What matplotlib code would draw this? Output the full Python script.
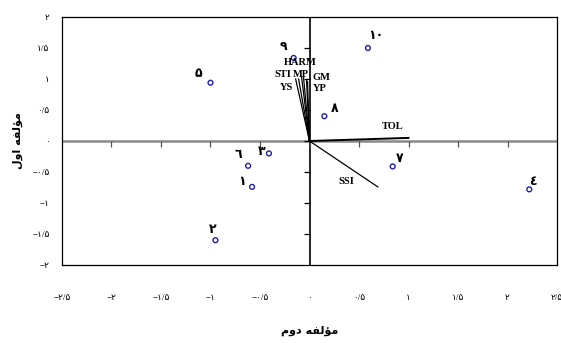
import numpy as np
import matplotlib
matplotlib.use('Agg')
import matplotlib.pyplot as plt

# genotypes (PC2 on x, PC1 on y)
GENO_LABELS = ['۱', '۲', '۳', '٤', '۵', '٦', '۷', '۸', '۹', '۱۰']
GENO_X = [-0.58, -0.95, -0.41, 2.22, -1.00, -0.62, 0.84, 0.15, -0.16, 0.59]
GENO_Y = [-0.74, -1.60, -0.20, -0.78, 0.94, -0.40, -0.41, 0.40, 1.34, 1.50]

# index vectors
VEC_NAMES = ['YS', 'STI', 'HARM', 'MP', 'GM', 'YP', 'TOL', 'SSI']
VEC_X = [-0.14, -0.11, -0.08, -0.06, -0.03, -0.02, 1.00, 0.69]
VEC_Y = [1.00, 1.00, 1.03, 1.02, 0.98, 0.96, 0.05, -0.74]

TICKS_X = [-2.5, -2, -1.5, -1, -0.5, 0, 0.5, 1, 1.5, 2, 2.5]
TICKS_Y = [-2, -1.5, -1, -0.5, 0, 0.5, 1, 1.5, 2]

# label placement (pixels for genotype labels, data coords for vectors)
GENO_OFF = [(-10, 5), (-3, 10), (-7, 1), (4, 7), (-12, 9),
            (-10, 11), (7, 7), (10, 7), (-10, 11), (8, 12)]
VEC_LBL = {'YS': (-0.23, 0.87), 'STI': (-0.27, 1.08), 'HARM': (-0.09, 1.26),
           'MP': (-0.09, 1.08), 'GM': (0.12, 1.03), 'YP': (0.10, 0.84),
           'TOL': (0.84, 0.23), 'SSI': (0.37, -0.65)}

FAM = ['Liberation Serif', 'DejaVu Sans']
PERSIAN = str.maketrans('0123456789.-', '۰۱۲۳۴۵۶۷۸۹/−')


def fa_num(v):
    s = ('%g' % v)
    if s.startswith('-'):
        return '−' + s[1:].translate(PERSIAN)
    return s.translate(PERSIAN)


# joined presentation forms, reversed into visual order (no bidi in matplotlib)
YLABEL = 'ﻣﺆﻟﻔﻪ ﺍﻭﻝ'[::-1]
XLABEL = 'ﻣﺆﻟﻔﻪ ﺩﻭﻡ'[::-1]

fig = plt.figure(figsize=(5.61, 3.43), dpi=100)
ax = fig.add_axes([0.1105, 0.2274, 0.8824, 0.7230])
ax.set_xlim(-2.5, 2.5)
ax.set_ylim(-2, 2)

for s in ax.spines.values():
    s.set_linewidth(0.9)
    s.set_color('black')

ax.set_xticks(TICKS_X)
ax.set_yticks(TICKS_Y)
ax.set_xticklabels([fa_num(t) for t in TICKS_X], family=FAM, fontsize=6.5)
ax.set_yticklabels([fa_num(t) for t in TICKS_Y], family=FAM, fontsize=6.5)
ax.tick_params(axis='x', length=0, pad=21)
ax.tick_params(axis='y', length=0, pad=9)

# zero axes with their own tick marks
ax.axhline(0, color='#8a8a8a', lw=1.8, zorder=1)
ax.axvline(0, color='black', lw=1.2, zorder=1)
ax.plot(TICKS_X[1:-1], np.zeros(len(TICKS_X) - 2), ls='none', marker=3,
        ms=4, mew=0.9, color='#555555', zorder=1)
ax.plot(np.zeros(len(TICKS_Y) - 2), TICKS_Y[1:-1], ls='none', marker=0,
        ms=4, mew=0.9, color='black', zorder=1)

# vectors
for name, vx, vy in zip(VEC_NAMES, VEC_X, VEC_Y):
    lw = 1.4 if name == 'TOL' else 0.9
    ax.plot([0, vx], [0, vy], color='black', lw=lw, zorder=2)
    lx, ly = VEC_LBL[name]
    ax.text(lx, ly, name, family=FAM, fontsize=7.5, fontweight='bold',
            ha='center', va='center', zorder=4)

# genotypes
ax.scatter(GENO_X, GENO_Y, s=12, facecolors='none', edgecolors='#1f1fa8',
           linewidths=1.0, zorder=3)
for lab, gx, gy, off in zip(GENO_LABELS, GENO_X, GENO_Y, GENO_OFF):
    ax.annotate(lab, (gx, gy), xytext=off, textcoords='offset pixels',
                family=FAM, fontsize=9, fontweight='bold',
                ha='center', va='center', zorder=4)

fig.text(0.552, 0.035, XLABEL, family='DejaVu Sans', fontsize=8,
         fontweight='bold', ha='center', va='center')
fig.text(0.032, 0.589, YLABEL, family='DejaVu Sans', fontsize=8,
         fontweight='bold', ha='center', va='center', rotation=90)

fig.savefig('out.png', dpi=100)
